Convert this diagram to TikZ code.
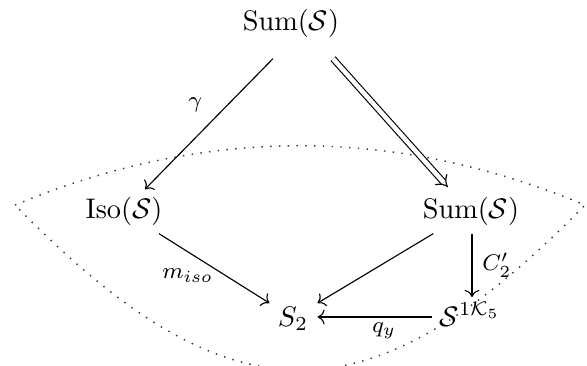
\documentclass[tikz,border=0pt]{standalone}
\usetikzlibrary{calc,arrows.meta}

\begin{document}
\begin{tikzpicture}[
    x=0.3534pt, y=-0.3534pt, >=To,
    obj/.style={inner sep=0pt, anchor=base},
    lbl/.style={font=\footnotesize, inner sep=1pt},
    dbl/.style={double, double distance=1.6pt, -{Implies}},
    fence/.style={line width=0.5pt, dash pattern=on 0.5pt off 2.6pt, black!80}
  ]
    \useasboundingbox (0,0) rectangle (587,365);

    % dotted region round the lower part
    \draw[fence] (15,205) .. controls (205,126) and (395,126) .. (585,205)
                          .. controls (370,425) and (230,425) .. cycle;

    \node[obj] (top)  at (291,30)  {$\mathrm{Sum}(\mathcal{S})$};
    \node[obj] (iso)  at (124,218) {$\mathrm{Iso}(\mathcal{S})$};
    \node[obj] (sumr) at (471,218) {$\mathrm{Sum}(\mathcal{S})$};
    \node[obj] (s2)   at (293,326) {$S_2$};
    \node[obj] (sk)   at (470,326) {$\mathcal{S}^{1\mathcal{K}_5}$};

    % Sum -> Iso
    \draw[->] ($(top.south)+(-18,21)$) -- node[lbl,pos=0.35,left=8pt]{$\gamma$} ($(iso.north)+(21,-7)$);
    % Sum => Sum
    \draw[dbl] ($(top.south)+(42,21)$) -- ($(sumr.north)+(-23,-9)$);
    % Iso -> S2
    \draw[->] ($(iso.south east)+(-4,8)$) -- node[lbl,pos=0.26,below=5pt]{$m_{iso}$} ($(s2.north west)+(-8,-3)$);
    % Sum -> S2
    \draw[->] ($(sumr.south west)+(11,8)$) -- ($(s2.north east)+(9,-3)$);
    % Sum -> S^K
    \draw[->] ($(sumr.south)+(1,8)$) -- node[lbl,right=2.5pt]{$C'_2$} ($(sk.base)+(2,-29)$);
    % S^K -> S2
    \draw[->] ($(sk.base west)+(-7,-9)$) -- node[lbl,pos=0.42,below=1pt]{$q_y$} ($(s2.base east)+(9,-9)$);
  \end{tikzpicture}
\end{document}
